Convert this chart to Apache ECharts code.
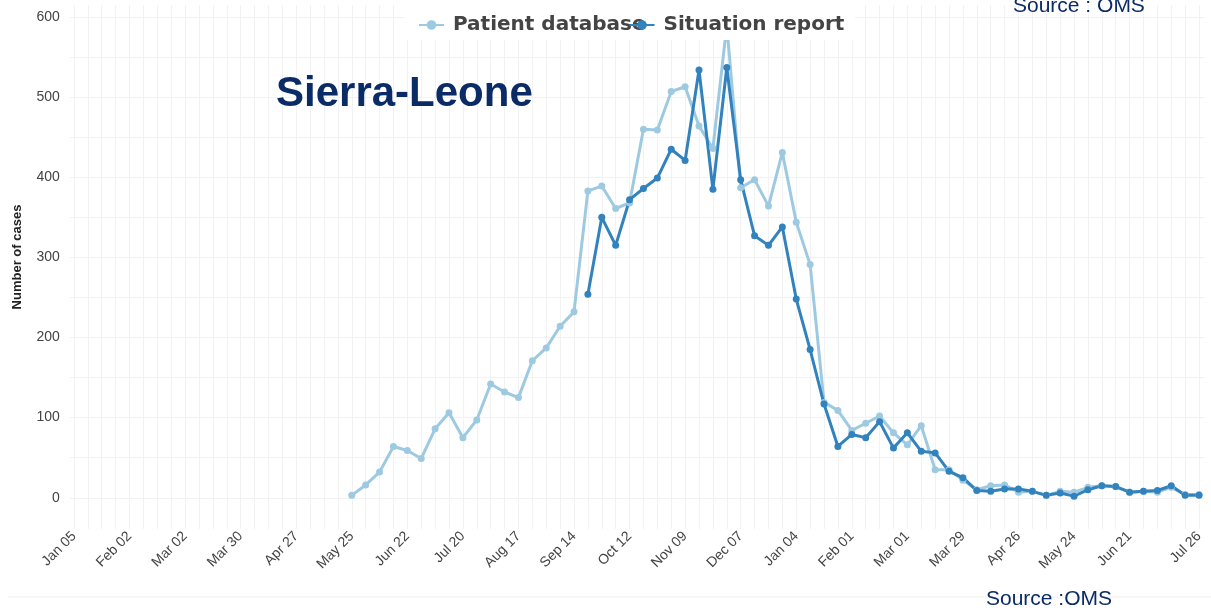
<!DOCTYPE html>
<html>
<head>
<meta charset="utf-8">
<script src="https://cdn.jsdelivr.net/npm/echarts@6/dist/echarts.min.js"></script>
<style>
html,body{margin:0;padding:0;background:#fff;}
#chart{width:1211px;height:610px;}
</style>
</head>
<body>
<div id="chart"></div>
<script>
// Weeks are counted from Jan 05, 2014 (week 0) to Jul 26, 2015 (week 81)
const tickWeeks = [0,4,8,12,16,20,24,28,32,36,40,44,48,52,56,60,64,68,72,76,81];
const tickLabels = ['Jan 05','Feb 02','Mar 02','Mar 30','Apr 27','May 25','Jun 22','Jul 20','Aug 17','Sep 14','Oct 12','Nov 09','Dec 07','Jan 04','Feb 01','Mar 01','Mar 29','Apr 26','May 24','Jun 21','Jul 26'];
const yLabelValues = [0,100,200,300,400,500,600];

const patientStartWeek = 20;
const patientValues = [3,16,32,64,59,49,86,106,75,97,142,132,125,171,187,214,232,383,389,361,368,460,459,507,513,464,436,590,387,397,364,431,344,291,119,109,84,93,102,81,66,90,35,35,22,10,15,16,7,8,3,8,7,13,15,14,7,8,7,13,4,4];

const situationStartWeek = 37;
const situationValues = [254,350,315,372,386,399,435,421,534,385,537,397,327,315,338,248,185,117,64,79,75,95,62,81,58,56,33,25,9,8,11,11,8,3,6,2,10,15,14,7,8,9,15,3,3];

const weekGrid = [];
for (let w = 0; w <= 81; w++) weekGrid.push(w);
const yGrid = [];
for (let v = 0; v <= 600; v += 50) yGrid.push(v);

const patientData = patientValues.map((v, i) => [patientStartWeek + i, v]);
const situationData = situationValues.map((v, i) => [situationStartWeek + i, v]);

const chart = echarts.init(document.getElementById('chart'));
const navy = '#0b2b66';
chart.setOption({
  backgroundColor: '#fff',
  animation: false,
  grid: {left: 69.8, right: 6.4, top: 5, bottom: 81},
  xAxis: {
    type: 'value', min: -0.3, max: 81.4,
    axisLine: {show: false},
    axisTick: {show: false, customValues: weekGrid},
    splitLine: {show: true, lineStyle: {color: '#f2f2f2', width: 1}},
    axisLabel: {
      customValues: tickWeeks,
      rotate: 45, margin: 5,
      fontFamily: 'Liberation Sans', fontSize: 14, color: '#444',
      formatter: v => { const i = tickWeeks.indexOf(Math.round(v)); return i >= 0 ? tickLabels[i] : ''; }
    }
  },
  yAxis: {
    type: 'value', min: -39, max: 615,
    axisLine: {show: false},
    axisTick: {show: false, customValues: yGrid},
    splitLine: {show: true, lineStyle: {color: '#f2f2f2', width: 1}},
    axisLabel: {customValues: yLabelValues, margin: 10, fontFamily: 'Liberation Sans', fontSize: 14, color: '#444'}
  },
  legend: [{
    data: ['Patient database', 'Situation report'],
    left: 410, top: 7, padding: 8, itemGap: -17,
    itemWidth: 25, itemHeight: 12,
    textStyle: {fontFamily: 'DejaVu Sans', fontWeight: 'bold', fontSize: 20, color: '#444', padding: [0,0,0,4]}
  }],
  graphic: [
    {type: 'rect', z: 3, shape: {x: 405, y: 5, width: 450, height: 35}, style: {fill: '#fff'}},
    {type: 'text', z: 5, left: 276, top: 73, style: {text: 'Sierra-Leone', font: 'bold 42px "Liberation Sans"', fill: navy}},
    {type: 'text', z: 5, left: 1013, top: -4, style: {text: 'Source : OMS', font: '21px "Liberation Sans"', fill: navy}},
    {type: 'text', z: 5, left: 986, top: 589, style: {text: 'Source :OMS', font: '21px "Liberation Sans"', fill: navy}},
    {type: 'line', z: 1, shape: {x1: 8, y1: 597, x2: 1211, y2: 597}, style: {stroke: '#efefef', lineWidth: 1}},
    {type: 'text', z: 5, x: 17, y: 257, rotation: Math.PI / 2,
      style: {text: 'Number of cases', font: 'bold 13px "Liberation Sans"', fill: '#222', align: 'center', verticalAlign: 'middle'}}
  ],
  series: [
    {name: 'Patient database', type: 'line', data: patientData, z: 2,
      symbol: 'circle', symbolSize: 7, showSymbol: true,
      lineStyle: {color: '#9ecae1', width: 3}, itemStyle: {color: '#9ecae1'}},
    {name: 'Situation report', type: 'line', data: situationData, z: 2,
      symbol: 'circle', symbolSize: 7, showSymbol: true,
      lineStyle: {color: '#3182bd', width: 3}, itemStyle: {color: '#3182bd'}}
  ]
});
</script>
</body>
</html>
